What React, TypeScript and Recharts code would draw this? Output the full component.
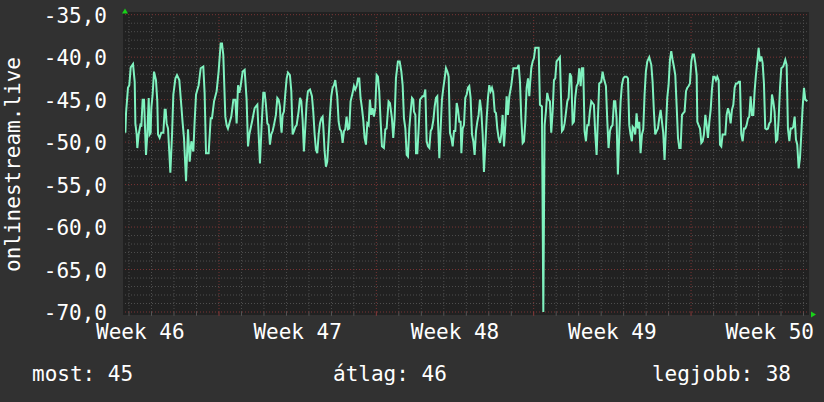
import { LineChart, Line, XAxis, YAxis, ReferenceLine } from 'recharts';

// hours since start of the window, signal value
const week46: [number, number][] = [
  [0.4,-48.9],[1.1,-46.6],[3.2,-43.6],[4.6,-43.3],[6.1,-41.2],[8.6,-40.8],[10.4,-42.9],[11.1,-47.8],[12.5,-49.1],[13.2,-50.7],
  [14.6,-49.1],[16.8,-47.8],[17.5,-48.2],[18.9,-45.0],[20.4,-45.0],[21.1,-47.2],[22.5,-51.5],[23.9,-49.1],[25.4,-44.8],[26.4,-49.1],
  [27.5,-48.9],[28.2,-46.0],[29.6,-44.4],[31.1,-41.7],[33.2,-42.7],[34.6,-45.2],[35.4,-49.1],[37.1,-49.5],[38.9,-48.9],[41.1,-48.9],
  [42.5,-46.2],[43.6,-46.2],[44.6,-47.8],[46.1,-48.4],[48.6,-53.6],[50.4,-49.1],[51.8,-44.4],[54.0,-42.5],[55.7,-42.1],[58.2,-42.7],
  [60.4,-45.8],[61.8,-47.8],[63.2,-49.5],[65.4,-54.6],[67.5,-48.5],[69.3,-52.3],[71.1,-49.9],[73.2,-51.1],[74.6,-47.6],[76.1,-44.4],
  [78.9,-43.3],[81.1,-41.3],[83.9,-41.1],[85.3,-44.2],[86.8,-51.3],[89.6,-51.3],[91.8,-47.2],[93.2,-47.2],[95.4,-45.2],[98.2,-44.0],
  [100.3,-41.7],
];

const week47: [number, number][] = [
  [102.5,-38.4],[103.9,-38.4],[105.3,-39.7],[107.5,-47.0],[108.9,-48.0],[110.3,-48.4],[111.8,-47.8],[113.9,-47.0],[116.1,-45.0],[118.2,-45.0],
  [119.6,-47.8],[121.1,-43.3],[122.5,-44.2],[123.9,-43.4],[126.1,-41.7],[128.2,-41.5],[130.3,-45.0],[131.8,-50.5],[133.2,-49.1],[136.1,-47.6],
  [138.9,-46.0],[141.8,-45.6],[144.6,-52.5],[146.4,-48.0],[148.2,-44.2],[149.6,-44.2],[151.0,-45.6],[152.5,-47.8],[153.9,-48.0],[155.3,-50.3],
  [156.7,-49.1],[158.2,-48.7],[159.6,-48.0],[161.7,-46.8],[163.2,-44.8],[164.6,-45.0],[166.0,-45.8],[166.7,-47.6],[167.8,-48.9],[168.9,-46.8],
  [170.3,-46.4],[171.7,-44.4],[173.2,-42.5],[174.6,-41.8],[176.7,-42.1],[178.2,-44.0],[179.6,-49.1],[181.0,-48.7],[182.5,-48.2],[183.9,-48.0],
  [186.0,-46.4],[187.5,-44.8],[188.9,-45.2],[190.3,-47.4],[191.7,-51.1],[193.2,-48.2],[194.6,-45.4],[196.0,-44.0],[198.2,-43.8],[200.3,-44.6],
  [201.7,-46.4],[203.2,-49.1],[204.6,-50.9],[206.0,-51.3],[207.5,-49.1],[208.9,-47.8],[210.3,-47.2],[211.7,-47.0],[212.4,-48.0],[213.9,-51.1],
  [215.3,-52.9],[216.7,-52.3],[218.2,-49.5],[219.6,-46.8],[221.0,-44.6],[222.4,-43.6],[223.9,-43.3],[225.3,-42.7],[227.4,-44.6],[228.9,-47.6],
  [230.3,-48.5],[231.7,-48.7],[233.2,-50.1],[234.6,-48.7],[236.0,-48.5],[237.4,-47.0],[238.9,-48.5],[240.3,-48.4],[241.7,-45.2],[243.9,-44.2],
  [245.3,-43.4],[246.7,-43.8],[248.2,-43.4],[249.6,-42.5],[251.0,-42.5],[252.4,-44.8],[253.9,-46.0],[255.3,-47.4],[256.7,-49.5],[258.2,-50.3],
  [259.6,-47.8],[261.0,-48.0],[262.4,-45.0],[263.9,-46.8],[265.3,-46.0],[266.7,-47.0],[268.2,-46.0],
];

const week48: [number, number][] = [
  [269.6,-42.1],[271.0,-42.3],[272.4,-44.0],[273.9,-47.6],[275.3,-50.5],[277.4,-50.7],[278.9,-48.5],[280.3,-48.4],[282.4,-45.2],[283.9,-45.4],
  [286.0,-47.2],[287.4,-49.5],[288.9,-47.2],[290.3,-42.5],[292.4,-40.5],[294.3,-40.5],[296.1,-41.7],[297.5,-43.3],[298.9,-47.2],[300.4,-48.4],
  [301.8,-51.5],[303.2,-51.7],[304.6,-48.4],[306.1,-46.4],[307.5,-44.8],[308.9,-45.0],[309.6,-46.4],[311.1,-46.8],[311.8,-51.3],[313.2,-51.3],
  [314.6,-48.5],[316.1,-45.0],[317.5,-44.8],[318.9,-44.6],[320.4,-44.6],[321.8,-43.8],[323.2,-49.9],[324.6,-50.5],[326.1,-50.7],[327.5,-48.7],
  [328.9,-48.4],[330.4,-47.4],[331.8,-45.8],[333.2,-44.8],[334.6,-44.6],[335.4,-47.6],[336.8,-51.9],[338.2,-48.4],[339.6,-45.0],[341.1,-43.6],
  [342.5,-42.5],[343.9,-41.3],[345.4,-41.7],[346.8,-42.3],[348.2,-48.9],[349.6,-49.5],[351.1,-50.5],[352.5,-48.7],[353.9,-48.7],[355.4,-45.4],
  [356.8,-46.2],[358.2,-47.6],[359.6,-47.6],[360.4,-51.3],[361.8,-48.4],[363.2,-48.0],[364.6,-44.8],[366.1,-44.4],[367.5,-43.6],[368.9,-43.4],
  [370.3,-44.8],[371.8,-49.1],[373.2,-49.9],[374.6,-51.5],[376.1,-48.7],[377.5,-47.6],[378.9,-46.8],[380.3,-45.0],[381.8,-46.4],[383.2,-49.1],
  [384.6,-53.5],[386.1,-50.3],[387.5,-47.2],[388.9,-44.8],[390.3,-43.3],[391.8,-44.0],[393.2,-43.6],[394.6,-44.2],[396.1,-46.4],[397.5,-46.6],
  [398.9,-48.4],[400.3,-49.5],[401.8,-50.1],[403.2,-49.1],[404.6,-46.8],[406.1,-50.5],[407.5,-48.0],[408.9,-44.6],[410.3,-46.8],[411.8,-44.6],
  [413.9,-43.3],[416.1,-41.3],[418.2,-41.3],[420.3,-41.3],[421.8,-40.9],[423.2,-42.9],[424.6,-47.2],[426.1,-50.1],[427.5,-49.9],[428.9,-47.6],
  [430.3,-43.6],[431.8,-42.5],[433.2,-44.6],[433.9,-43.3],[435.3,-41.3],[436.8,-40.5],[438.2,-40.1],
];

const week49: [number, number][] = [
  [439.6,-38.9],[443.2,-38.9],[444.6,-45.6],[446.7,-45.8],[448.2,-70.0],[449.6,-48.0],[451.0,-46.4],[452.4,-44.2],[453.9,-45.0],[455.3,-45.2],
  [456.7,-48.9],[458.2,-46.4],[459.6,-42.7],[461.0,-42.5],[462.4,-40.5],[463.9,-40.3],[466.0,-40.0],[466.7,-42.9],[468.2,-48.7],[469.6,-48.5],
  [471.0,-47.8],[472.4,-46.6],[473.9,-45.2],[475.3,-44.8],[476.7,-41.9],[478.2,-42.3],[479.6,-47.8],[481.0,-47.6],[482.4,-44.8],[483.9,-43.4],
  [485.3,-43.1],[486.7,-41.3],[488.2,-43.4],[489.6,-41.3],[491.0,-41.3],[492.4,-48.7],[493.9,-49.9],[495.3,-48.0],[496.7,-48.0],[498.1,-46.4],
  [499.6,-45.2],[501.0,-45.4],[502.4,-45.6],[503.9,-49.1],[505.3,-51.5],[506.7,-47.2],[508.1,-43.1],[510.3,-42.9],[511.7,-41.7],[513.1,-42.5],
  [515.3,-43.4],[516.7,-47.4],[518.1,-50.7],[519.6,-48.7],[521.0,-48.2],[522.4,-48.0],[523.9,-45.2],[525.3,-45.2],[526.7,-47.2],[528.1,-53.8],
  [529.6,-49.1],[531.0,-45.2],[532.4,-43.3],[533.9,-42.5],[535.3,-42.3],[537.4,-42.3],[538.9,-42.5],[540.3,-48.0],[541.7,-49.1],[543.1,-49.9],
  [543.9,-48.2],[545.3,-48.4],[546.7,-49.1],[548.1,-46.6],[549.6,-48.4],[551.0,-47.6],[552.4,-51.3],[553.9,-49.1],[555.3,-48.5],[556.7,-44.4],
  [558.1,-41.7],[559.6,-40.5],[561.7,-40.0],[563.9,-40.9],[565.3,-42.9],[566.7,-46.4],[568.1,-49.1],[569.6,-48.7],[571.0,-48.4],[572.4,-47.2],
  [573.9,-46.2],[575.3,-47.6],[576.7,-48.9],[578.1,-52.1],[579.6,-48.4],[581.0,-44.8],[582.4,-43.3],[583.9,-40.3],[585.3,-39.3],[586.7,-40.3],
  [588.1,-41.1],[589.6,-42.1],[591.1,-45.8],[592.5,-49.5],[593.9,-50.7],[595.3,-50.7],[596.8,-46.8],[598.2,-46.6],[599.6,-46.4],[601.1,-44.0],
  [602.5,-43.6],[603.9,-43.4],[605.3,-43.1],
];

const week50: [number, number][] = [
  [606.8,-40.5],[608.2,-39.7],[609.6,-39.7],[611.1,-40.7],[612.5,-42.1],[613.2,-47.6],[614.6,-48.0],[616.1,-48.4],[617.5,-50.1],[618.9,-49.9],
  [620.3,-49.1],[621.8,-46.8],[623.2,-48.0],[624.6,-49.5],[626.1,-47.6],[627.5,-46.2],[628.9,-43.8],[630.3,-42.3],[631.8,-42.3],[633.2,-42.7],
  [634.6,-42.3],[636.1,-42.7],[637.5,-50.3],[638.9,-50.5],[640.3,-49.1],[641.8,-49.1],[643.2,-49.1],[644.6,-46.8],[646.1,-46.0],[647.5,-46.6],
  [648.9,-47.8],[650.3,-46.2],[651.8,-45.6],[653.2,-43.6],[654.6,-43.1],[656.1,-43.1],[657.5,-42.9],[658.9,-42.9],[660.3,-49.1],[661.8,-49.9],
  [663.2,-48.4],[664.6,-48.4],[666.0,-48.0],[667.5,-47.2],[668.9,-47.0],[670.3,-44.6],[671.8,-46.8],[673.2,-46.8],[674.6,-44.0],[676.0,-42.1],
  [677.5,-40.5],[678.9,-38.9],[680.3,-40.5],[681.8,-39.9],[683.2,-40.7],[684.6,-43.1],[686.0,-48.4],[687.5,-48.5],[688.9,-48.4],[690.3,-47.8],
  [691.8,-47.6],[693.2,-44.4],[694.6,-45.2],[696.0,-46.4],[697.5,-49.9],[698.9,-49.7],[700.3,-47.4],[701.8,-43.6],[703.2,-41.3],[705.3,-41.1],
  [707.5,-40.3],[708.9,-40.9],[710.3,-48.4],[711.8,-49.9],[713.2,-48.4],[714.6,-48.4],[716.0,-48.2],[717.5,-47.0],[718.9,-49.7],[720.3,-50.3],
  [721.8,-53.1],[723.2,-51.9],[724.6,-49.1],[726.0,-46.0],[727.5,-43.6],[728.9,-45.0],[731.1,-45.2],
];

const weekLabels = ['Week 46', 'Week 47', 'Week 48', 'Week 49', 'Week 50'];
const weekMid = [16.4, 185.0, 353.6, 522.2, 690.8];
const weekStart = [100.7, 269.3, 437.9, 606.5];
const yTicks = [-70, -65, -60, -55, -50, -45, -40, -35];
const legend = { most: 45, atlag: 46, legjobb: 38 };

const rangeEnd = 731.8;
const dayLen = 24.09;

const data = [...week46, ...week47, ...week48, ...week49, ...week50].map(([t, v]) => ({ t, v }));

const font = "'DejaVu Sans Mono', monospace";
const minorGrid = '#4e4e4e';
const majorGrid = '#7a3434';

const dayLines: number[] = [];
for (let d = weekStart[0] - 4 * dayLen; d < rangeEnd; d += dayLen) {
  if (!weekStart.some((w) => Math.abs(w - d) < 1)) dayLines.push(+d.toFixed(1));
}
const minorY: number[] = [];
for (let y = -69; y < -35; y++) if (y % 5 !== 0) minorY.push(y);

const YTick = ({ x, y, payload }: any) => (
  <text x={x} y={y} dy={8} textAnchor="end" fill="#fff" fontSize={21} fontFamily={font}>
    {payload.value.toFixed(1).replace('.', ',')}
  </text>
);

const XTick = ({ x, y, payload, index }: any) => (
  <text x={x} y={y} dy={27} textAnchor="middle" fill="#fff" fontSize={21} fontFamily={font}>
    {weekLabels[index] ?? payload.value}
  </text>
);

export default function App() {
  return (
    <div style={{ position: 'fixed', left: 0, top: 0, width: 824, height: 402, background: '#313131', overflow: 'hidden' }}>
      <div style={{ position: 'absolute', left: 123, top: 12, width: 686, height: 303, background: '#212121' }} />
      <div style={{ position: 'absolute', left: 0, top: 0 }}>
        <LineChart width={824} height={402} data={data} margin={{ top: 14.7, right: 16, bottom: 60, left: 25 }}>
          <XAxis
            type="number"
            dataKey="t"
            domain={[0, rangeEnd]}
            ticks={weekMid}
            interval={0}
            axisLine={false}
            tickLine={false}
            tickSize={0}
            tickMargin={0}
            height={30}
            tick={<XTick />}
            allowDataOverflow
          />
          <YAxis
            type="number"
            domain={[-70, -35]}
            ticks={yTicks}
            interval={0}
            axisLine={false}
            tickLine={false}
            tickSize={0}
            tickMargin={18}
            width={100}
            tick={<YTick />}
            allowDataOverflow
          />
          {minorY.map((y) => (
            <ReferenceLine key={'my' + y} y={y} stroke={minorGrid} strokeDasharray="1 2" />
          ))}
          {dayLines.map((d) => (
            <ReferenceLine key={'dx' + d} x={d} stroke={minorGrid} strokeDasharray="1 2" />
          ))}
          {dayLines.map((d) => (
            <ReferenceLine key={'dt' + d} segment={[{ x: d, y: -70 }, { x: d, y: -70.45 }]} stroke="#555" ifOverflow="visible" />
          ))}
          {yTicks.map((y) => (
            <ReferenceLine key={'My' + y} y={y} stroke={majorGrid} strokeDasharray="1 2" />
          ))}
          {weekStart.map((w) => (
            <ReferenceLine key={'Mx' + w} x={w} stroke={majorGrid} strokeDasharray="1 2" />
          ))}
          {weekStart.map((w) => (
            <ReferenceLine key={'Mt' + w} segment={[{ x: w, y: -70 }, { x: w, y: -70.45 }]} stroke="#8a3a3a" ifOverflow="visible" />
          ))}
          <Line
            type="linear"
            dataKey="v"
            stroke="#7ff2bf"
            strokeWidth={2}
            dot={false}
            isAnimationActive={false}
          />
        </LineChart>
      </div>
      <svg width={824} height={402} style={{ position: 'absolute', left: 0, top: 0, pointerEvents: 'none' }}>
        <polygon points="122,13.5 128,13.5 125,8.5" fill="#19d119" />
        <polygon points="811,311.5 811,317.5 816,314.5" fill="#19d119" />
        <text transform="translate(20,164.5) rotate(-90)" textAnchor="middle" fill="#fff" fontSize={21} fontFamily={font}>
          onlinestream.live
        </text>
        <text x={32} y={381} fill="#fff" fontSize={21} fontFamily={font}>most: {legend.most}</text>
        <text x={333} y={381} fill="#fff" fontSize={21} fontFamily={font}>átlag: {legend.atlag}</text>
        <text x={791} y={381} textAnchor="end" fill="#fff" fontSize={21} fontFamily={font}>legjobb: {legend.legjobb}</text>
      </svg>
    </div>
  );
}
